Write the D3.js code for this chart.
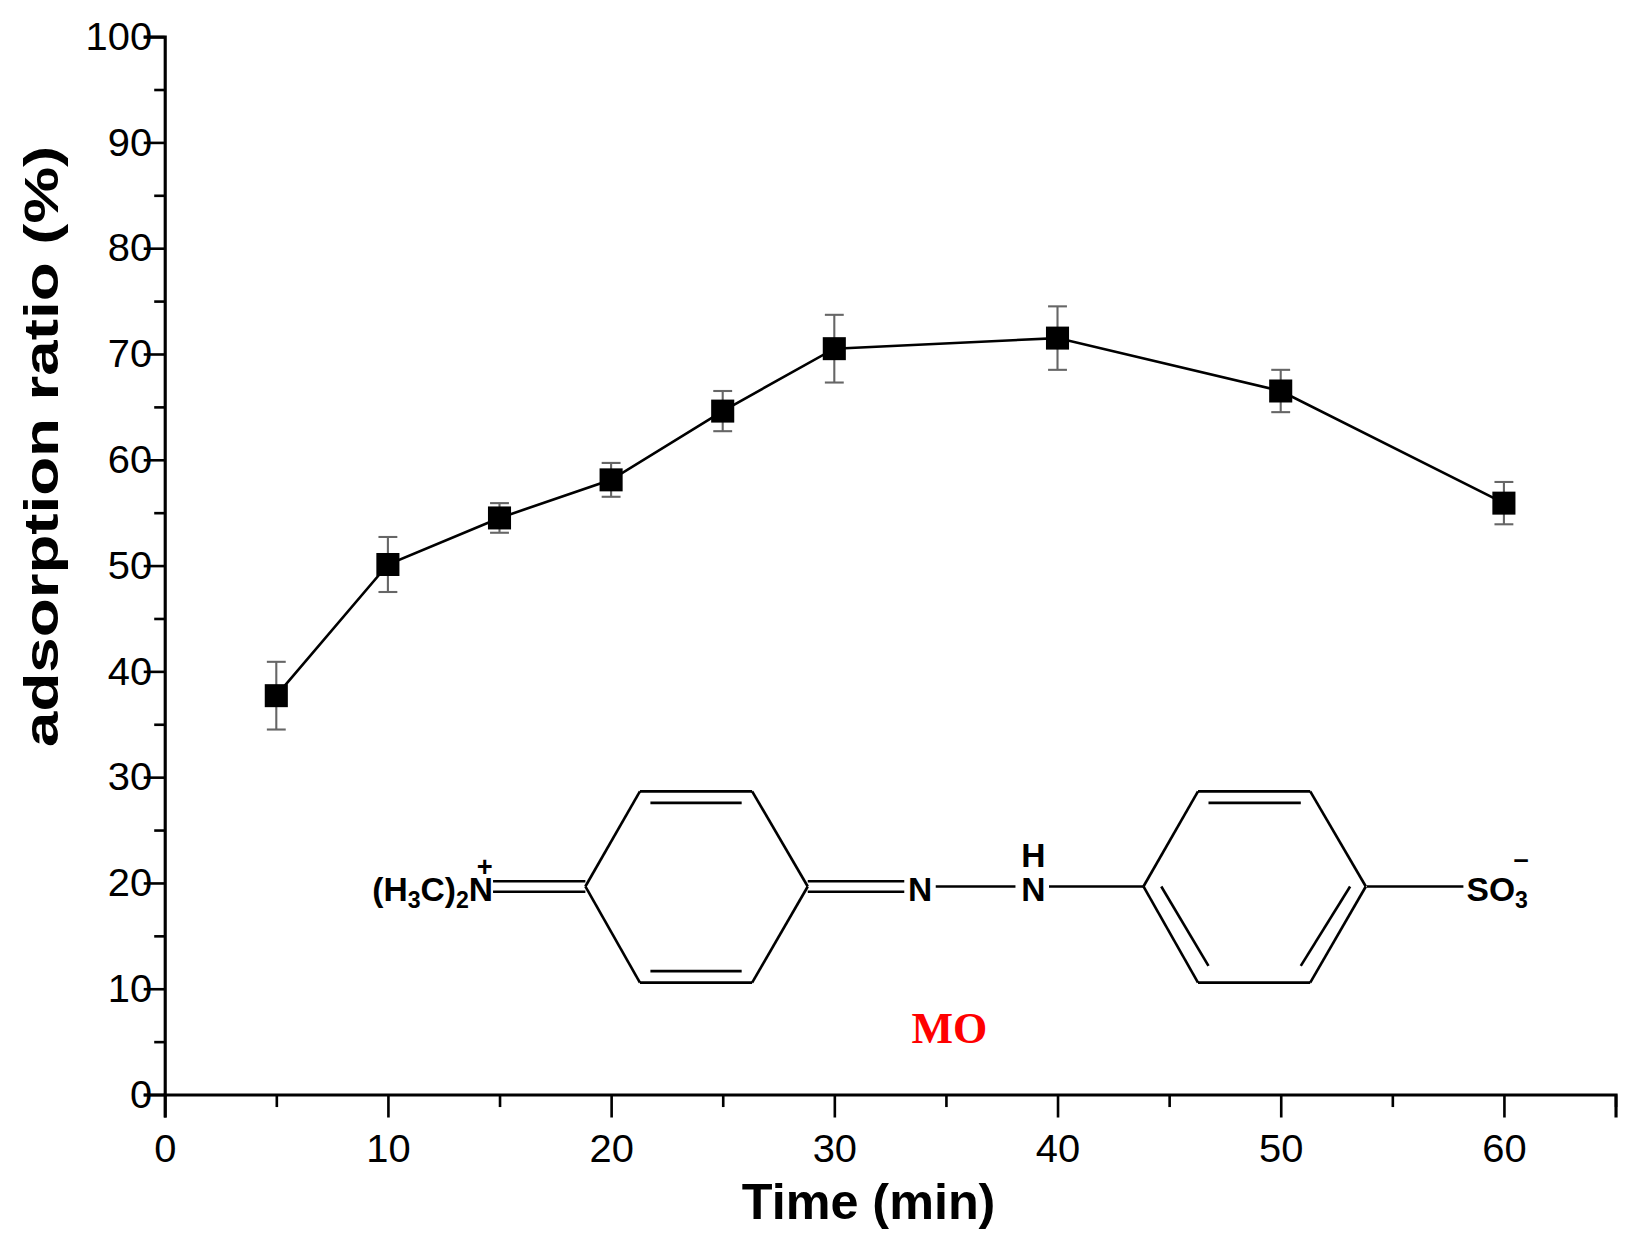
<!DOCTYPE html>
<html><head><meta charset="utf-8">
<script src="https://cdn.jsdelivr.net/npm/d3@7"></script>
<style>body{margin:0;background:#fff}</style>
</head><body>
<div id="wrap"></div>
<script>
var times = [5, 10, 15, 20, 25, 30, 40, 50, 60];
var ratios = [37.7, 50.1, 54.5, 58.1, 64.6, 70.5, 71.5, 66.5, 55.9];
var errors = [3.2, 2.6, 1.4, 1.6, 1.9, 3.2, 3.0, 2.0, 2.0];
var xTicks = [0, 10, 20, 30, 40, 50, 60];
var yTicks = [0, 10, 20, 30, 40, 50, 60, 70, 80, 90, 100];

var svg = d3.select('#wrap').append('svg')
    .attr('width', 1626).attr('height', 1244)
    .attr('viewBox', '0 0 1550 1190')
    .attr('preserveAspectRatio', 'none')
    .style('font-family', 'Liberation Sans, Arial, sans-serif');

var x = d3.scaleLinear().domain([0, 65]).range([157, 1540]);
var y = d3.scaleLinear().domain([0, 100]).range([1047, 35]);

// axes
var gx = svg.append('g').attr('transform', 'translate(0,1047)')
    .call(d3.axisBottom(x).tickValues(d3.range(0, 66, 5)).tickSize(22).tickFormat(''));
gx.selectAll('.tick line').attr('y2', function(d) { return d % 10 ? 12 : 22; });
var gx2 = svg.append('g').attr('transform', 'translate(0,1047)')
    .call(d3.axisBottom(x).tickValues(xTicks).tickSize(0).tickPadding(38));
var gy = svg.append('g').attr('transform', 'translate(157,0)')
    .call(d3.axisLeft(y).tickValues(d3.range(0, 101, 5)).tickSize(20).tickFormat(''));
gy.selectAll('.tick line').attr('x2', function(d) { return d % 10 ? -10 : -20; });
var gy2 = svg.append('g').attr('transform', 'translate(157,0)')
    .call(d3.axisLeft(y).tickValues(yTicks).tickSize(0).tickPadding(12));
[gx, gx2, gy, gy2].forEach(function(g) {
    g.select('.domain').attr('stroke', '#000').attr('stroke-width', 3);
    g.selectAll('.tick line').attr('stroke', '#000').attr('stroke-width', 2.5);
    g.selectAll('text').attr('font-size', 38).attr('fill', '#000')
        .style('font-family', 'Liberation Sans, Arial, sans-serif');
});
gx2.select('.domain').remove(); gy2.select('.domain').remove();

svg.append('text').attr('x', 828).attr('y', 1166).attr('text-anchor', 'middle')
    .attr('font-size', 48).attr('font-weight', 'bold').text('Time (min)');
svg.append('text').attr('transform', 'translate(55,427) rotate(-90)').attr('text-anchor', 'middle')
    .attr('font-size', 46).attr('font-weight', 'bold')
    .attr('textLength', 575).attr('lengthAdjust', 'spacingAndGlyphs').text('adsorption ratio (%)');

// error bars
var pts = times.map(function(t, i) { return {t: t, v: ratios[i], e: errors[i]}; });
var eb = svg.append('g').attr('stroke', '#666').attr('stroke-width', 2);
pts.forEach(function(d) {
    var cx = x(d.t);
    eb.append('line').attr('x1', cx).attr('x2', cx).attr('y1', y(d.v - d.e)).attr('y2', y(d.v + d.e));
    [d.v - d.e, d.v + d.e].forEach(function(v) {
        eb.append('line').attr('x1', cx - 9).attr('x2', cx + 9).attr('y1', y(v)).attr('y2', y(v));
    });
});
svg.append('path').datum(pts)
    .attr('d', d3.line().x(function(d) { return x(d.t); }).y(function(d) { return y(d.v); }))
    .attr('fill', 'none').attr('stroke', '#000').attr('stroke-width', 2.5);
svg.selectAll('rect.pt').data(pts).enter().append('rect').attr('class', 'pt')
    .attr('x', function(d) { return x(d.t) - 11; }).attr('y', function(d) { return y(d.v) - 11; })
    .attr('width', 22).attr('height', 22).attr('fill', '#000');

// methyl orange structure
var mol = svg.append('g').attr('stroke', '#000').attr('stroke-width', 2.5).attr('fill', 'none');
function seg(a, b, c, d) { mol.append('line').attr('x1', a).attr('y1', b).attr('x2', c).attr('y2', d); }
function ring(ox) {
    var p = [[ox, 848], [ox + 52, 757], [ox + 159, 757], [ox + 212, 848], [ox + 159, 940], [ox + 52, 940]];
    for (var i = 0; i < 6; i++) seg(p[i][0], p[i][1], p[(i + 1) % 6][0], p[(i + 1) % 6][1]);
}
ring(558); ring(1090);
seg(620, 768, 707, 768); seg(620, 929, 707, 929);
seg(1152, 768, 1240, 768); seg(1107, 848, 1152, 924); seg(1287, 848, 1240, 924);
seg(470, 843, 558, 843); seg(470, 853, 558, 853);
seg(770, 843, 862, 843); seg(770, 853, 862, 853);
seg(892, 848, 968, 848); seg(1000, 848, 1090, 848); seg(1303, 848, 1395, 848);

var tx = svg.append('g').attr('font-size', 32).attr('font-weight', 'bold').attr('fill', '#000');
var t1 = tx.append('text').attr('x', 470).attr('y', 862).attr('text-anchor', 'end');
t1.append('tspan').text('(H');
t1.append('tspan').attr('font-size', 22).attr('dy', 7).text('3');
t1.append('tspan').attr('dy', -7).text('C)');
t1.append('tspan').attr('font-size', 22).attr('dy', 7).text('2');
t1.append('tspan').attr('dy', -7).text('N');
tx.append('text').attr('x', 462).attr('y', 838).attr('text-anchor', 'middle').attr('font-size', 26).text('+');
tx.append('text').attr('x', 877).attr('y', 862).attr('text-anchor', 'middle').text('N');
tx.append('text').attr('x', 985).attr('y', 862).attr('text-anchor', 'middle').text('N');
tx.append('text').attr('x', 985).attr('y', 829).attr('text-anchor', 'middle').text('H');
var t2 = tx.append('text').attr('x', 1398).attr('y', 862);
t2.append('tspan').text('SO');
t2.append('tspan').attr('font-size', 22).attr('dy', 7).text('3');
tx.append('text').attr('x', 1450).attr('y', 830).attr('text-anchor', 'middle').attr('font-size', 26).text('\u2013');
svg.append('text').attr('x', 905).attr('y', 998).attr('text-anchor', 'middle')
    .attr('font-size', 42).attr('font-weight', 'bold').attr('fill', '#f00')
    .style('font-family', 'Liberation Serif, Times New Roman, serif').text('MO');
</script>
</body></html>
